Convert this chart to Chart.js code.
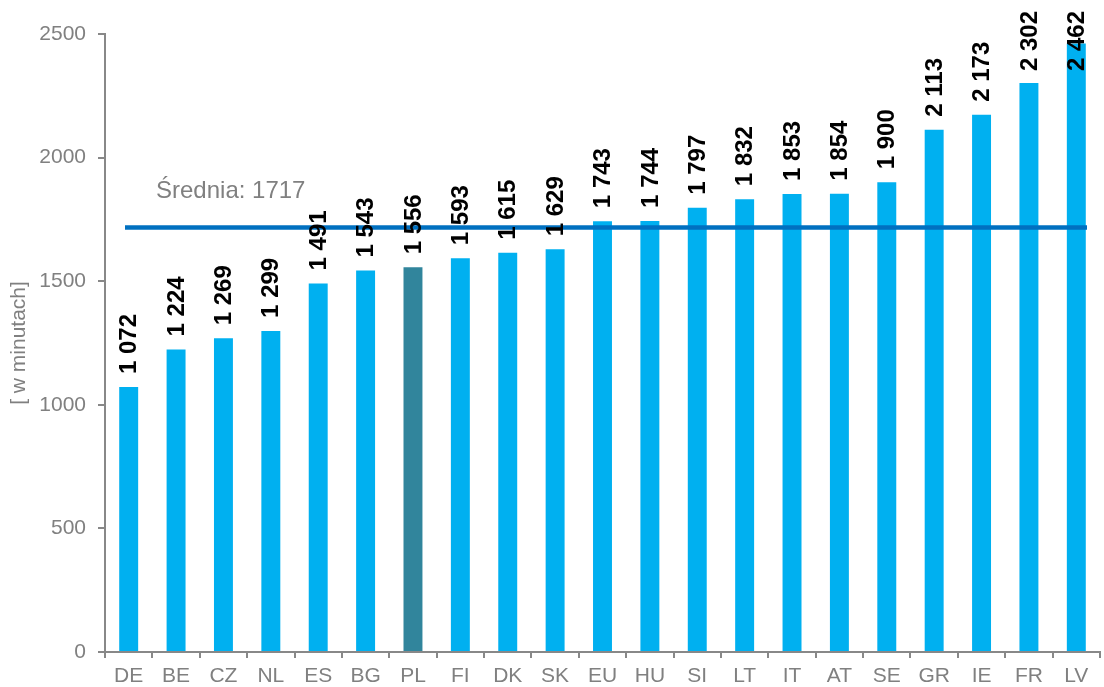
<!DOCTYPE html>
<html>
<head>
<meta charset="utf-8">
<script src="https://cdn.jsdelivr.net/npm/chart.js@4.4.1/dist/chart.umd.min.js"></script>
<style>
html,body{margin:0;padding:0;background:#fff;}
#wrap{width:1104px;height:687px;position:relative;}
</style>
</head>
<body>
<div id="wrap"><canvas id="c" width="1104" height="687"></canvas></div>
<script>
const categories = ["DE","BE","CZ","NL","ES","BG","PL","FI","DK","SK","EU","HU","SI","LT","IT","AT","SE","GR","IE","FR","LV"];
const values = [1072,1224,1269,1299,1491,1543,1556,1593,1615,1629,1743,1744,1797,1832,1853,1854,1900,2113,2173,2302,2462];
const valueLabels = ["1 072","1 224","1 269","1 299","1 491","1 543","1 556","1 593","1 615","1 629","1 743","1 744","1 797","1 832","1 853","1 854","1 900","2 113","2 173","2 302","2 462"];
const highlightCategory = "PL";
const averageValue = 1717;
const averageLabel = "Średnia: 1717";
const yTicks = [0,500,1000,1500,2000,2500];
const yTitle = "[ w minutach]";

const FONT = "'Liberation Sans', Arial, sans-serif";
const GRAY = "#808080";

const barColors = categories.map(c => c === highlightCategory ? "#31859C" : "#00B0F0");

const overlay = {
  id: "overlay",
  afterDatasetsDraw(chart) {
    const ctx = chart.ctx;
    const ys = chart.scales.y;
    const area = chart.chartArea;
    const ya = ys.getPixelForValue(averageValue);
    ctx.save();
    ctx.strokeStyle = "#0070C0";
    ctx.lineWidth = 4.5;
    ctx.beginPath();
    ctx.moveTo(area.left + 20, ya);
    ctx.lineTo(area.right - 13, ya);
    ctx.stroke();
    ctx.fillStyle = GRAY;
    ctx.font = "24px " + FONT;
    ctx.textAlign = "left";
    ctx.textBaseline = "middle";
    ctx.fillText(averageLabel, area.left + 51, ya - 36);
    ctx.restore();
    const meta = chart.getDatasetMeta(0);
    ctx.save();
    ctx.font = "bold 24px " + FONT;
    ctx.fillStyle = "#000";
    ctx.textBaseline = "middle";
    ctx.textAlign = "left";
    meta.data.forEach((bar, i) => {
      const txt = valueLabels[i];
      const w = ctx.measureText(txt).width;
      let start = bar.y - 13;
      if (start - w < 11) start = 11 + w;
      ctx.save();
      ctx.translate(bar.x + 1, start);
      ctx.rotate(-Math.PI / 2);
      ctx.fillText(txt, 0, 0);
      ctx.restore();
    });
    ctx.restore();
  }
};

new Chart(document.getElementById("c"), {
  type: "bar",
  data: {
    labels: categories,
    datasets: [{
      data: values,
      backgroundColor: barColors,
      borderWidth: 0,
      barPercentage: 0.4,
      categoryPercentage: 1.0
    }]
  },
  options: {
    responsive: false,
    animation: false,
    layout: { padding: { top: 34, right: 4, left: 0, bottom: 0 } },
    plugins: { legend: { display: false }, tooltip: { enabled: false } },
    scales: {
      x: {
        grid: { display: true, drawOnChartArea: false, drawTicks: true, tickLength: 6, color: "#888", lineWidth: 2, offset: true },
        border: { display: true, color: "#888", width: 2 },
        ticks: { color: GRAY, font: { family: FONT, size: 21 }, padding: 6, maxRotation: 0, autoSkip: false },
        afterFit(s) { s.height = 35; }
      },
      y: {
        min: 0, max: 2500,
        afterBuildTicks(s) { s.ticks = yTicks.map(v => ({ value: v })); },
        grid: { display: true, drawOnChartArea: false, drawTicks: true, tickLength: 7, color: "#888", lineWidth: 2 },
        border: { display: true, color: "#888", width: 2 },
        ticks: { color: GRAY, font: { family: FONT, size: 21 }, padding: 12, callback: v => String(v) },
        title: { display: true, text: yTitle, color: GRAY, font: { family: FONT, size: 21 }, padding: { top: 7, bottom: 0 } },
        afterFit(s) { s.width = 105; }
      }
    }
  },
  plugins: [overlay]
});
</script>
</body>
</html>
